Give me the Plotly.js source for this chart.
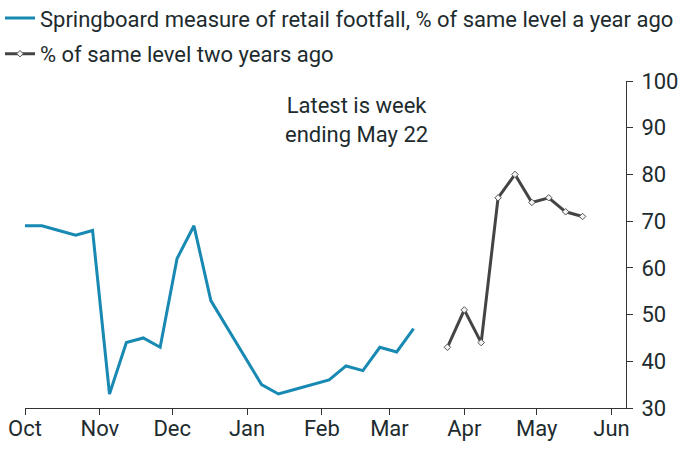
<!DOCTYPE html>
<html>
<head>
<meta charset="utf-8">
<script src="https://cdn.plot.ly/plotly-3.0.1.min.js"></script>
<style>html,body{margin:0;padding:0;background:#fff;}#chart{width:680px;height:457px;}</style>
</head>
<body>
<div id="chart"></div>
<script>
// Weekly data (week-ending dates)
const yearAgoDates = ['2020-10-01','2020-10-08','2020-10-15','2020-10-22','2020-10-29','2020-11-05','2020-11-12','2020-11-19','2020-11-26','2020-12-03','2020-12-10','2020-12-17','2021-01-07','2021-01-14','2021-01-21','2021-01-28','2021-02-04','2021-02-11','2021-02-18','2021-02-25','2021-03-04','2021-03-11'];
const yearAgoValues = [69,69,68,67,68,33,44,45,43,62,69,53,35,33,34,35,36,39,38,43,42,47];

const twoYearDates = ['2021-03-25','2021-04-01','2021-04-08','2021-04-15','2021-04-22','2021-04-29','2021-05-06','2021-05-13','2021-05-20'];
const twoYearValues = [43,51,44,75,80,74,75,72,71];

const yTicks = [30,40,50,60,70,80,90,100];
const seriesNames = ['Springboard measure of retail footfall, % of same level a year ago','% of same level two years ago'];
const noteText = 'Latest is week<br>ending May 22';

const textColor = '#1d2b2e';
const fontFamily = 'Roboto, "Liberation Sans", sans-serif';

const traces = [
  {x: yearAgoDates, y: yearAgoValues, type: 'scatter', mode: 'lines', name: seriesNames[0],
   legendgroup: 'a', line: {color: '#1789b3', width: 3}},
  {x: twoYearDates, y: twoYearValues, type: 'scatter', mode: 'lines+markers', name: seriesNames[1],
   legendgroup: 'b', line: {color: '#444444', width: 3},
   marker: {symbol: 'diamond', size: 5, color: '#f4f4f4', line: {color: '#555555', width: 1}}}
];

const layout = {
  width: 680, height: 457,
  margin: {l: 25, r: 54, t: 81, b: 49, pad: 0, autoexpand: false},
  paper_bgcolor: '#ffffff', plot_bgcolor: '#ffffff',
  font: {family: fontFamily, size: 22, color: textColor},
  showlegend: true,
  legend: {x: -0.0416, y: 1.256, xanchor: 'left', yanchor: 'top', orientation: 'v',
           traceorder: 'grouped', tracegroupgap: 4, itemwidth: 30,
           font: {family: fontFamily, size: 22, color: textColor}, bgcolor: 'rgba(0,0,0,0)'},
  xaxis: {type: 'date', range: ['2020-10-01','2021-06-07'], tick0: '2020-10-01', dtick: 'M1',
          tickformat: '%b', showgrid: false, zeroline: false, showline: true, linecolor: '#333333', linewidth: 1,
          ticks: 'outside', ticklen: 6, tickcolor: '#333333', tickwidth: 1, ticklabelstandoff: -5,
          tickfont: {family: fontFamily, size: 22, color: textColor}, fixedrange: true},
  yaxis: {range: [30,100], side: 'right', tickvals: yTicks, ticktext: yTicks.map(String),
          showgrid: false, zeroline: false, showline: true, linecolor: '#333333', linewidth: 1,
          ticks: 'outside', ticklen: 6, tickcolor: '#333333', tickwidth: 1, ticklabelstandoff: 4,
          tickfont: {family: fontFamily, size: 22, color: textColor}, fixedrange: true},
  annotations: [
    {xref: 'paper', yref: 'paper', x: 0.552, y: 0.88, xanchor: 'center', yanchor: 'middle',
     text: noteText, showarrow: false, align: 'center',
     font: {family: fontFamily, size: 22, color: textColor}}
  ]
};

Plotly.newPlot('chart', traces, layout, {displayModeBar: false, staticPlot: true});
</script>
</body>
</html>
